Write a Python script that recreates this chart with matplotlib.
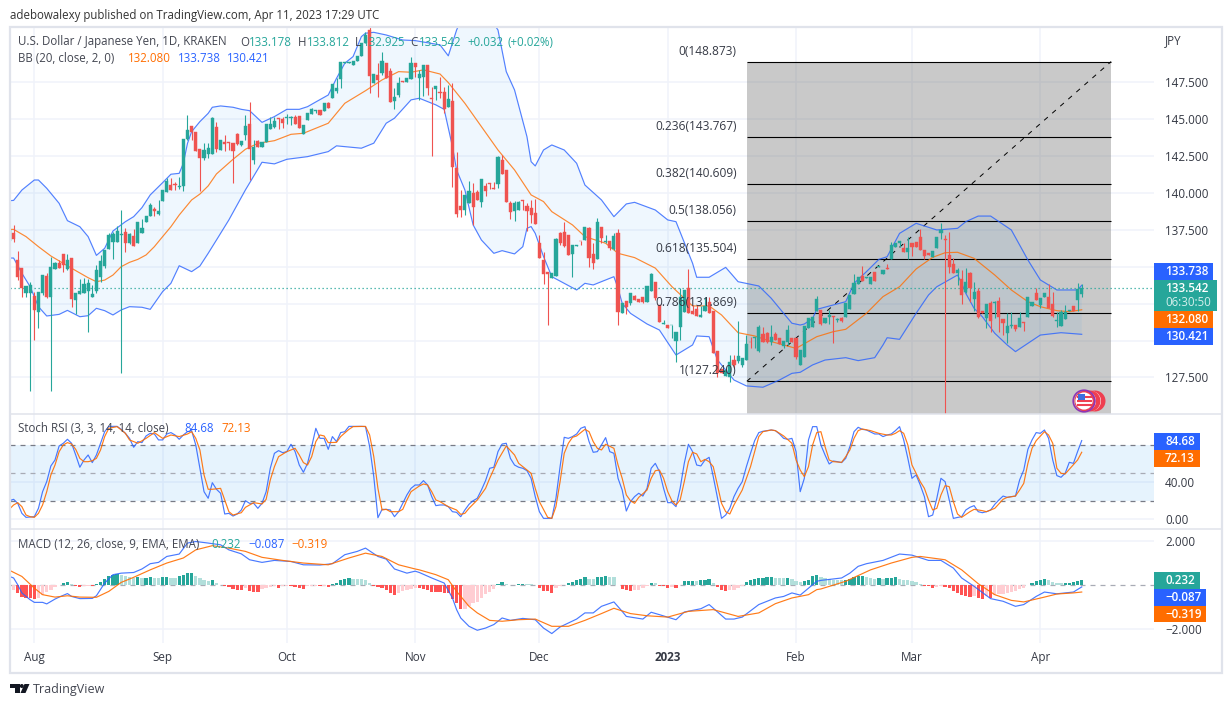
import numpy as np
import matplotlib
matplotlib.use("Agg")
import matplotlib.pyplot as plt
from matplotlib.patches import Rectangle, Circle, Polygon

plt.rcParams['font.family'] = ['Open Sans', 'DejaVu Sans']

# day 0 is 1 Aug 2022, one candle per calendar day
first_day = -6
opens = [
    136.76,137.30,135.45,134.88,133.24,133.19,133.01,131.95,133.19,134.37,
    132.97,134.86,135.22,135.85,134.84,135.58,132.74,133.15,133.24,133.37,
    132.95,133.37,134.32,135.04,136.19,136.67,136.69,137.14,137.36,136.58,
    137.07,136.62,137.30,138.04,138.42,138.90,138.56,139.44,140.07,140.52,
    140.59,140.37,140.46,143.61,144.52,144.09,142.94,142.33,142.60,142.64,
    144.45,142.91,143.41,143.41,143.34,143.95,143.23,143.93,144.65,142.22,
    143.50,143.12,143.46,144.31,144.43,145.03,144.99,145.06,145.08,145.15,
    145.17,143.98,144.92,145.33,145.53,145.60,145.55,146.05,146.39,146.86,
    147.68,148.76,148.76,148.65,148.94,149.26,150.10,151.00,147.45,147.97,
    148.08,148.76,148.26,146.21,146.62,147.59,147.52,147.70,148.78,147.79,
    147.86,148.65,146.44,147.00,146.84,146.79,145.78,146.21,141.65,139.10,
    138.83,139.28,139.96,140.07,139.40,140.48,140.64,140.30,140.59,142.22,
    141.54,139.33,138.77,138.83,139.49,139.10,138.97,138.61,136.58,135.45,
    134.66,134.26,134.37,137.25,137.34,137.14,135.83,136.40,136.76,136.80,
    137.64,135.86,135.54,137.71,136.69,136.74,136.17,137.25,131.89,132.70,
    132.52,133.02,132.81,132.93,132.59,133.38,133.98,132.41,131.10,131.05,
    131.03,129.97,130.94,131.95,133.53,132.02,132.13,131.57,132.00,132.61,
    132.02,129.29,128.05,127.63,127.56,128.69,128.62,128.35,128.69,129.93,
    130.15,129.29,130.44,130.49,129.88,130.44,130.15,129.65,129.93,130.15,
    130.15,128.35,128.91,130.83,130.94,132.02,132.07,131.16,131.61,131.68,
    131.39,131.50,131.61,132.11,133.15,133.82,134.37,134.25,133.82,134.61,
    135.00,134.48,134.93,135.49,136.35,136.62,136.24,135.97,136.60,136.64,
    136.98,136.12,135.94,135.67,136.24,137.25,136.90,135.79,135.18,134.55,
    134.14,133.31,134.55,132.79,133.35,132.02,131.50,132.52,132.54,132.65,
    131.46,130.53,130.98,131.05,130.94,131.23,131.61,132.34,133.24,132.40,
    132.92,132.97,132.47,131.30,131.00,131.48,132.02,132.34,132.74,133.178,
]
closes = [
    137.48,136.87,134.30,133.53,133.69,133.73,132.07,133.28,134.43,132.92,
    134.95,135.25,134.91,135.13,135.45,132.81,133.22,133.33,133.82,133.91,
    133.15,134.77,135.38,136.12,137.14,137.21,137.41,137.21,136.60,137.21,
    136.42,138.02,137.61,138.42,139.17,138.76,138.74,140.19,140.80,140.19,
    140.52,140.46,143.61,144.25,144.13,142.82,142.37,142.89,143.00,145.08,
    142.96,143.57,143.32,143.37,142.85,143.30,143.48,144.52,142.96,143.07,
    143.12,143.46,144.63,144.63,144.85,144.99,144.72,145.10,145.10,144.65,
    144.36,144.58,145.37,145.67,145.60,145.26,146.05,145.71,147.36,147.06,
    148.83,148.83,148.87,148.94,149.26,150.11,150.70,147.90,148.04,147.63,
    148.89,147.74,146.17,146.50,147.45,147.47,147.74,148.80,148.53,148.04,
    148.65,147.07,146.37,147.22,146.77,145.64,146.34,141.76,138.56,138.83,
    139.85,140.12,139.06,139.51,140.91,140.12,140.59,140.23,142.44,141.25,
    139.40,138.70,139.28,139.37,139.42,138.79,138.47,137.89,135.61,134.50,
    134.50,134.55,136.87,136.58,136.40,135.79,136.47,136.44,136.71,137.66,
    135.61,135.22,138.00,136.92,136.74,136.24,137.10,131.93,132.52,132.25,
    133.20,132.74,132.63,132.63,133.69,134.50,132.86,131.28,131.17,130.87,
    131.07,130.56,132.97,133.42,131.89,131.80,131.68,131.73,132.34,131.84,
    129.18,127.78,127.78,128.01,128.53,128.35,128.96,128.80,129.75,129.88,
    130.22,130.94,129.93,129.93,130.26,130.04,129.77,129.97,130.71,129.93,
    128.91,129.36,131.00,131.50,131.61,132.79,131.10,131.55,131.73,131.57,
    131.43,131.34,132.52,133.08,133.87,134.32,134.03,134.30,134.32,134.03,
    135.04,134.77,134.84,136.46,136.58,136.71,136.01,136.24,136.30,136.35,
    136.12,135.74,135.76,136.08,136.98,137.48,136.80,135.00,134.59,134.77,
    133.08,133.98,133.53,133.31,131.57,131.88,132.47,131.34,132.58,131.61,
    131.16,131.00,131.05,130.78,131.50,131.16,132.92,132.61,132.74,132.85,
    133.19,132.18,131.68,131.39,131.95,131.95,132.07,132.00,133.51,133.542,
]
highs = [
    137.48,137.82,136.06,134.88,133.69,133.96,133.26,133.28,134.43,134.59,
    135.63,135.29,135.45,135.85,135.85,135.58,133.22,134.16,134.21,134.16,
    133.76,135.11,135.76,136.12,137.25,137.36,137.75,138.83,137.61,137.30,
    137.52,138.02,138.22,138.42,139.28,139.01,139.51,140.19,140.98,140.98,
    140.75,141.09,143.61,145.26,144.52,144.09,142.94,143.34,143.34,145.15,
    144.81,143.57,143.91,143.41,143.34,144.02,143.48,145.26,146.12,143.57,
    143.57,143.46,144.63,145.15,145.10,145.03,145.15,145.33,145.19,145.26,
    145.17,144.58,145.37,145.71,145.60,145.60,146.05,146.16,147.36,147.79,
    148.83,148.83,148.87,148.94,149.26,150.11,150.90,151.30,148.04,148.76,
    149.55,148.76,148.42,147.07,147.86,147.59,147.74,149.16,148.78,148.31,
    148.65,148.65,147.18,147.22,147.85,147.18,147.29,147.40,142.73,140.19,
    139.85,140.82,140.64,140.19,140.91,140.64,140.68,140.75,142.49,142.55,
    141.54,139.46,139.44,139.44,139.49,139.28,139.51,139.58,137.14,135.97,
    134.66,134.55,136.92,137.37,138.00,137.14,136.47,136.44,136.76,137.66,
    137.71,136.58,138.27,137.71,137.14,136.74,137.25,137.55,132.52,132.70,
    133.20,133.08,132.81,132.93,133.69,134.55,133.98,132.41,131.39,131.05,
    131.07,130.56,133.53,133.42,134.82,132.41,132.41,132.36,132.97,132.97,
    132.02,129.29,128.05,128.01,129.02,129.02,131.32,128.80,130.38,130.26,
    130.22,131.05,130.94,130.60,131.05,130.60,130.15,129.97,131.05,130.15,
    130.15,129.36,131.00,131.50,131.61,133.01,132.07,131.55,132.07,131.68,
    131.50,131.61,132.52,133.08,134.50,134.32,135.06,134.30,134.32,134.61,
    135.04,134.77,135.15,136.69,136.58,136.71,136.58,137.03,136.60,136.64,
    137.55,136.12,135.94,136.08,136.98,137.97,137.14,137.32,135.56,134.88,
    134.77,134.88,134.66,133.94,133.53,132.02,132.47,132.70,132.70,132.92,
    131.46,131.88,131.95,131.05,131.95,131.23,132.97,132.61,133.53,132.85,
    133.19,133.80,133.31,131.95,132.07,132.40,132.07,132.34,133.87,133.812,
]
lows = [
    136.76,136.67,134.10,132.97,132.97,126.61,130.04,130.87,133.08,132.85,
    126.61,134.84,134.88,134.66,134.77,132.29,131.77,133.15,133.19,130.60,
    132.95,133.24,133.98,134.93,136.19,135.52,136.69,127.83,136.01,136.53,
    136.42,136.62,137.30,138.04,138.42,138.42,138.51,139.44,140.07,140.19,
    140.19,140.23,140.14,143.57,143.57,142.82,140.14,142.22,142.33,142.62,
    142.73,142.91,142.85,142.89,140.68,143.23,143.19,143.57,140.86,141.95,
    143.10,143.10,143.46,144.31,144.36,144.29,144.40,144.65,144.58,144.65,
    144.36,143.98,144.92,145.33,145.42,145.26,145.55,145.71,146.39,146.77,
    147.07,148.76,148.76,148.65,148.94,149.26,150.10,146.73,147.45,146.46,
    147.97,147.74,146.17,145.65,146.50,147.47,147.52,147.70,147.81,146.28,
    146.55,146.62,142.51,146.28,146.39,145.37,145.78,140.41,138.38,138.38,
    138.49,139.28,137.82,139.51,139.06,139.80,140.23,140.23,140.34,141.25,
    139.40,138.22,138.11,138.83,138.83,137.43,137.93,137.89,135.61,133.83,
    131.05,134.26,134.37,136.47,136.35,135.79,134.32,136.40,136.47,136.80,
    134.95,134.84,135.54,136.58,136.58,136.13,136.13,131.05,131.89,131.80,
    132.41,132.74,132.63,132.52,132.59,133.38,132.74,131.28,131.10,130.87,
    130.15,128.57,130.04,131.95,131.89,131.80,131.68,131.57,132.00,131.84,
    129.18,127.56,127.78,127.63,127.22,128.12,128.46,128.19,128.69,129.47,
    129.47,129.24,129.93,129.81,129.70,130.04,129.77,129.47,129.70,129.93,
    128.73,128.35,128.91,130.83,130.94,132.02,131.05,131.16,131.12,129.81,
    131.28,131.28,131.61,132.11,133.15,133.82,134.03,134.25,133.82,134.03,
    135.00,134.48,134.84,135.49,136.35,136.35,136.01,135.49,135.72,136.35,
    136.12,135.49,135.76,135.67,136.24,136.85,124.90,134.55,134.59,133.76,
    132.47,133.19,132.58,132.02,131.50,131.88,130.83,130.60,131.50,130.60,
    130.37,129.81,130.83,130.67,130.94,130.67,131.61,132.34,132.74,132.18,
    132.92,132.18,131.61,130.89,131.00,131.48,132.02,132.00,132.00,132.925,
]

# Bollinger bands
bb_upper_days = [-6,-5,-3,0,1,3,6,8,11,13,15,17,19,22,24,26,28,31,33,35,36,37,38,40,42,43,45,48,50,52,55,58,61,64,66,68,71,73,75,77,79,80,82,85,89,92,98,100,102,104,108,112,114,116,119,120,121,123,125,128,131,133,137,140,143,145,150,153,155,159,160,163,167,170,175,178,181,183,185,186,188,189,196,198,201,204,206,209,213,218,223,225,228,231,236,240,243,247,252,253]
bb_upper = [139.46,139.48,140.18,140.86,140.86,140.30,139.28,138.11,137.70,137.03,135.76,136.24,137.41,138.04,138.38,138.99,139.85,140.68,141.25,141.31,141.99,143.34,144.13,144.81,145.37,145.78,145.87,145.78,145.64,145.55,144.76,145.15,145.64,145.64,145.82,146.14,146.61,147.74,148.76,149.21,150.56,150.79,150.85,150.67,150.33,150.29,150.00,149.26,151.00,152.30,152.60,151.01,148.19,146.95,143.79,142.10,141.81,142.89,143.23,142.89,141.99,140.52,139.51,138.38,139.24,139.35,138.83,138.16,138.04,135.23,134.28,134.28,134.95,133.98,133.69,132.86,131.84,131.17,131.05,131.12,131.50,132.11,132.63,133.87,134.66,135.49,135.67,137.25,137.93,137.48,137.59,138.04,138.42,138.42,137.48,135.45,134.10,133.42,133.42,133.738]
bb_mid_days = [-6,-5,-2,1,4,7,10,13,15,17,19,21,23,25,27,29,31,33,35,38,40,42,44,48,51,54,58,62,65,71,75,80,84,88,91,94,98,100,104,108,112,116,120,123,125,130,133,138,141,145,150,154,157,159,163,166,170,174,178,184,189,193,196,201,205,209,213,217,220,223,227,232,236,240,243,247,250,253]
bb_mid = [137.52,137.52,137.03,136.35,135.72,135.22,134.73,134.25,133.98,134.09,134.43,135.00,135.29,135.49,135.79,136.35,137.03,137.70,138.49,139.51,139.91,140.46,141.27,142.26,142.94,143.34,143.52,143.95,144.02,144.70,146.05,146.90,147.63,148.19,148.15,148.31,148.03,147.45,146.05,144.47,142.89,141.54,139.85,139.40,138.72,137.82,137.03,136.58,135.90,135.61,134.90,133.65,132.86,132.34,132.34,131.73,130.53,130.31,129.93,129.47,130.26,130.60,130.76,131.84,132.97,133.64,134.84,135.63,135.94,135.97,135.56,134.43,133.42,132.63,132.29,132.02,131.95,132.08]
bb_lower_days = [-6,-5,-3,-1,1,3,6,8,11,13,15,17,19,21,23,26,28,31,33,35,38,40,42,44,47,51,55,58,61,66,71,73,79,82,85,87,91,93,97,99,101,102,104,106,108,111,113,116,118,119,120,121,123,125,128,131,133,135,140,141,142,144,148,151,155,159,160,163,165,169,172,176,180,183,185,188,191,196,199,203,205,206,209,213,216,218,223,224,225,227,229,232,235,237,240,243,248,253]
bb_lower = [135.58,135.58,134.55,133.64,132.29,131.66,131.77,132.04,131.61,131.68,132.18,132.02,131.73,132.07,132.29,132.25,132.11,133.31,133.87,135.06,134.66,135.04,135.90,136.80,138.16,140.19,142.06,141.95,142.26,142.44,142.78,143.17,143.01,143.35,144.70,145.04,146.28,146.39,145.94,145.64,143.12,141.54,140.19,137.82,136.80,135.90,136.08,135.86,136.35,137.59,137.71,137.25,135.68,134.32,133.87,133.42,133.87,133.76,134.32,133.53,132.52,131.84,131.12,130.71,129.02,129.70,130.31,130.26,128.69,127.33,126.93,126.84,127.33,127.78,127.85,128.35,128.68,128.84,128.64,128.84,129.70,130.19,130.08,131.84,133.08,133.64,134.43,133.87,133.19,132.18,131.61,130.49,129.70,129.25,129.81,130.37,130.53,130.421]

# Fibonacci retracement levels
fib_ratios = ['0', '0.236', '0.382', '0.5', '0.618', '0.786', '1']
fib_prices = [148.873, 143.767, 140.609, 138.056, 135.504, 131.869, 127.24]
fib_start, fib_end = 172.1, 260.1

# Stochastic RSI
stoch_k = [
    20.0,21.5,17.2,6.4,2.1,2.5,2.8,11.8,29.7,40.5,
    57.4,63.8,78.9,81.8,86.1,81.8,69.2,56.0,63.8,69.2,
    61.0,69.2,81.8,94.3,100,100,100,96.8,92.5,87.1,
    77.5,83.6,82.5,89.7,92.5,91.8,85.4,85.4,91.8,93.3,
    90.7,86.1,90.7,94.3,95.4,80.0,54.9,29.7,22.6,39.4,
    32.3,28.0,5.7,6.4,3.5,5.7,10.0,20.0,17.2,17.2,
    11.8,17.2,29.7,54.9,71.0,73.9,71.7,72.8,80.7,72.8,
    58.4,50.6,60.2,78.2,97.9,87.1,87.1,75.3,89.0,83.6,
    93.3,94.3,100,100,100,100,99.7,78.2,45.9,1.7,
    10.7,10.7,10.0,2.8,8.2,17.2,26.2,33.3,36.9,36.9,
    41.6,36.9,24.4,14.7,15.4,15.4,13.6,8.2,7.5,2.8,
    10.0,16.1,20.0,22.6,31.5,41.6,54.9,56.0,72.8,81.0,
    81.8,65.6,58.4,56.0,54.9,52.3,44.1,24.4,8.2,1.0,
    1.0,1.0,22.6,56.6,88.2,87.1,89.0,91.8,97.9,99.7,
    83.6,72.1,72.8,80.0,87.9,72.8,71.0,44.1,31.5,8.9,
    19.0,24.4,28.0,25.0,33.3,54.9,60.2,51.3,33.3,17.9,
    17.9,13.6,33.3,60.2,80.7,72.8,58.4,57.4,63.8,66.7,
    45.9,23.6,1.0,4.6,11.8,24.4,33.3,40.5,56.6,71.0,
    84.6,93.3,94.7,95.4,96.1,95.4,91.8,87.1,86.0,87.1,
    72.8,29.7,44.1,85.4,99.7,99.7,80.0,69.2,59.5,62.7,
    62.0,61.0,65.6,78.2,94.3,99.0,96.8,96.1,94.0,91.8,
    91.8,89.0,90.7,91.8,95.4,99.7,85.4,65.6,44.1,47.7,
    36.9,24.4,2.8,4.6,22.6,44.1,40.5,20.8,1.0,2.0,
    2.8,10.0,12.9,14.7,8.2,7.1,8.2,10.0,16.1,20.8,
    25.0,23.6,24.4,25.0,42.3,53.0,75.3,85.4,93.3,92.5,
    96.1,87.1,63.8,47.0,45.2,49.5,61.3,60.2,72.8,84.68,
]
stoch_d_days = [-6,-5,-4,-3,-2,-1,0,1,2,3,4,5,6,7,8,9,10,11,12,13,14,15,16,17,18,20,22,23,25,27,29,31,33,35,37,38,39,40,41,42,43,45,46,47,48,50,51,53,55,56,57,58,59,61,63,64,65,66,67,68,69,70,71,73,74,76,77,80,81,82,83,84,85,86,88,89,90,91,93,94,95,96,97,98,100,102,103,104,105,107,109,110,112,114,116,117,119,120,121,122,124,125,126,127,128,129,130,131,133,134,135,136,137,138,140,141,142,143,144,145,146,148,149,150,151,152,153,154,155,156,157,158,159,160,161,162,163,164,165,166,167,168,169,171,173,175,176,178,179,181,183,184,185,186,187,188,189,190,191,192,193,195,196,197,198,199,200,202,204,206,207,208,209,210,211,212,213,214,215,216,217,218,219,220,221,222,223,224,226,227,229,230,232,234,235,237,238,239,240,241,242,244,245,246,247,248,249,250,252,253]
stoch_d = [11.0,15.4,17.9,13.6,4.6,2.8,2.1,6.4,15.4,29.7,47.7,58.4,72.8,80.0,82.5,81.0,75.3,65.6,62.0,62.0,63.0,65.6,74.6,89.0,97.9,99.7,92.5,85.4,81.8,87.1,93.3,87.1,90.7,89.0,91.8,94.3,87.1,74.6,47.7,32.3,32.3,33.3,20.8,8.2,4.6,7.1,12.9,17.9,16.5,21.5,42.3,56.6,67.4,72.8,76.4,69.2,61.0,58.4,67.4,83.6,90.7,89.7,82.5,82.8,89.0,96.8,99.7,100,90.7,67.4,33.3,10.0,10.7,8.2,8.2,10.7,20.8,29.7,35.8,38.0,36.9,29.7,20.8,19.0,13.6,10.0,5.3,6.4,11.8,20.8,33.3,44.1,63.8,78.9,69.2,60.2,53.0,49.5,33.3,19.0,2.1,1.0,13.6,40.5,71.0,81.8,88.2,89.7,96.8,94.3,83.6,76.4,74.6,80.7,76.4,58.4,44.1,26.2,20.0,17.2,23.6,31.5,44.1,52.3,53.0,44.1,29.7,20.0,15.4,20.8,40.5,62.0,72.1,70.3,62.0,64.5,62.0,56.6,36.9,17.2,8.2,5.7,15.4,31.5,56.6,89.0,94.3,96.1,95.4,89.7,81.8,63.8,53.0,45.9,56.6,80.0,93.3,94.3,78.2,63.8,62.0,61.3,67.4,74.6,87.1,95.4,97.2,95.4,92.5,90.7,90.7,92.5,95.4,92.5,80.0,58.4,49.5,40.5,33.3,20.8,10.0,11.8,26.2,36.2,35.1,19.0,5.7,2.1,8.2,10.7,9.3,8.2,11.8,21.5,23.6,25.0,31.5,38.7,60.2,76.4,84.6,94.3,90.7,81.8,54.9,49.5,48.8,53.8,63.8,72.13]

# MACD
macd_days = [-6,-5,-4,-3,-2,-1,0,2,3,5,6,8,9,11,14,15,17,19,21,24,26,28,30,32,35,37,39,42,45,47,50,52,55,58,62,65,69,72,75,78,80,83,85,87,90,92,93,96,99,101,102,103,105,107,109,111,113,115,118,121,123,125,127,131,133,135,137,140,142,143,147,149,151,155,157,161,163,167,169,171,175,179,181,183,185,189,190,195,197,199,201,205,209,212,216,219,222,224,227,231,234,237,239,242,244,247,251,253]
macd_line = [.39,.32,.01,-.36,-.52,-.67,-.79,-.79,-.86,-.64,-.55,-.39,-.52,-.62,-.61,-.49,.09,.47,.54,.57,.73,.97,1.03,1.30,1.41,1.91,1.98,1.91,1.83,1.60,1.42,1.15,1.03,1.12,1.07,.92,.91,.97,1.38,1.53,1.68,1.30,1.18,.73,.54,.63,.57,.32,.09,-.59,-1.12,-1.50,-1.88,-2.06,-1.96,-1.80,-1.50,-1.61,-1.52,-1.58,-1.96,-2.21,-1.91,-1.55,-1.27,-1.27,-.97,-.77,-1.20,-1.43,-1.55,-1.24,-1.35,-1.58,-1.23,-1.08,-.89,-1.55,-1.55,-1.46,-.89,-.59,-.52,-.36,-.46,.17,.21,.32,.54,.85,.97,1.12,1.41,1.36,1.12,1.12,.77,.32,-.06,-.62,-.74,-.97,-.89,-.52,-.32,-.40,-.32,-.087]
signal_days = [-6,-3,0,2,5,8,11,15,18,21,24,28,32,36,39,43,47,51,55,60,65,71,76,80,84,88,92,93,97,100,102,105,107,110,113,117,121,125,129,133,137,140,144,148,153,158,164,170,175,179,183,187,189,190,196,202,207,212,214,220,224,228,232,236,239,244,247,251,253]
signal_line = [.67,.39,-.14,-.44,-.55,-.49,-.55,-.56,-.29,.12,.35,.69,1.00,1.23,1.60,1.79,1.68,1.53,1.26,1.12,1.00,.92,1.23,1.45,1.30,.92,.73,.69,.47,.24,-.29,-.97,-1.27,-1.61,-1.65,-1.58,-1.55,-1.88,-1.88,-1.61,-1.30,-1.06,-1.30,-1.40,-1.46,-1.20,-1.12,-1.43,-1.27,-.85,-.59,-.44,-.21,-.18,.17,.69,1.00,1.26,1.30,1.15,.69,.06,-.44,-.70,-.77,-.55,-.41,-.36,-.319]
macd_hist = [
    -.27,-.24,-.38,-.53,-.576,-.606,-.636,-.606,-.455,-.30,
    -.227,-.106,-.015,.076,.136,.03,-.03,-.09,-.045,-.03,
    -.06,.045,.12,.27,.424,.47,.50,.455,.424,.38,
    .333,.364,.30,.333,.38,.333,.30,.38,.385,.333,
    .318,.41,.47,.53,.56,.424,.30,.227,.167,.21,
    .106,.015,-.06,-.09,-.18,-.21,-.212,-.15,-.27,-.30,
    -.303,-.18,-.136,-.076,-.06,-.12,-.06,-.03,-.06,-.106,
    -.15,-.167,-.06,-.045,-.044,-.06,-.03,-.076,.06,.09,
    .21,.27,.30,.29,.288,.285,.24,.076,-.03,-.106,
    -.15,-.227,-.38,-.44,-.38,-.27,-.24,-.167,-.12,-.15,
    -.18,-.21,-.30,-.31,-.333,-.364,-.38,-.636,-.833,-1.106,
    -1.09,-.94,-.833,-.788,-.606,-.424,-.30,-.18,.045,.136,
    .045,.015,-.015,.03,.06,.045,.03,.015,-.15,-.27,
    -.288,-.38,-.15,-.06,.015,.076,.136,.227,.27,.364,
    .27,.258,.38,.385,.39,.348,.345,.015,-.18,-.24,
    -.258,-.24,-.21,-.15,-.06,.106,.09,-.03,-.045,-.12,
    -.106,-.12,-.015,.167,.197,.20,.197,.21,.227,.258,
    .09,-.076,-.227,-.27,-.24,-.21,-.12,-.06,.12,.21,
    .288,.30,.333,.348,.35,.318,.30,.298,.333,.27,
    .197,.15,.18,.24,.41,.44,.38,.30,.27,.24,
    .238,.21,.212,.27,.364,.394,.41,.38,.333,.27,
    .30,.288,.30,.333,.364,.27,.24,.21,.167,.12,
    .06,-.03,-.06,-.12,-.076,-.06,-.09,-.15,-.27,-.364,
    -.455,-.485,-.53,-.50,-.606,-.636,-.50,-.576,-.455,-.41,
    -.394,-.38,-.333,-.27,-.18,-.12,-.015,.076,.167,.21,
    .27,.21,.15,.106,.09,.106,.114,.12,.18,.232,
]

month_days = [0, 31, 61, 92, 122, 153, 184, 212, 243]
month_labels = ['Aug', 'Sep', 'Oct', 'Nov', 'Dec', '2023', 'Feb', 'Mar', 'Apr']
price_ticks = [127.5, 130, 132.5, 135, 137.5, 140, 142.5, 145, 147.5]
price_tick_labels = ['127.500', '', '', '135.000', '137.500', '140.000', '142.500', '145.000', '147.500']
last_close = closes[-1]

UP, DOWN = '#26a69a', '#ef5350'
BLUE, ORANGE = '#2962ff', '#ff6d00'
GRID = '#f0f3fa'
BORDER = '#e0e3eb'
TEXT = '#131722'
W, H = 1232, 707


def pane(top, bottom):
    # axes placed by pixel rows of the figure
    ax = fig.add_axes([10 / W, 1 - bottom / H, 1144 / W, (bottom - top) / H])
    ax.set_xlim(-5.87, 270.46)
    for s in ax.spines.values():
        s.set_visible(False)
    ax.set_xticks(month_days)
    ax.grid(True, color=GRID, lw=1.1)
    ax.set_axisbelow(True)
    ax.tick_params(length=0, labelbottom=False, labelleft=False, labelright=True,
                   labelsize=8.4, labelcolor='#363a45', pad=7.9)
    ax.yaxis.tick_right()
    return ax


fig = plt.figure(figsize=(W / 100, H / 100), dpi=100, facecolor='white')
days = np.arange(first_day, first_day + len(closes))

# price pane
ax = pane(27, 414)
ax.set_ylim(125.03, 151.21)
ax.set_yticks(price_ticks, price_tick_labels)

ax.add_patch(Rectangle((fib_start, 120), fib_end - fib_start, fib_prices[0] - 120,
                       fc='#787878', alpha=0.4, ec='none', zorder=1))
for p in fib_prices:
    ax.plot([fib_start, fib_end], [p, p], color='black', lw=0.8, zorder=2, solid_capstyle='butt')
ax.plot([fib_start, fib_end], [fib_prices[-1], fib_prices[0]], color='black', lw=0.7,
        ls=(0, (5, 6)), zorder=2)

ax.fill(np.r_[bb_upper_days, bb_lower_days[::-1]], np.r_[bb_upper, bb_lower[::-1]],
        color='#2196f3', alpha=0.07, lw=0, zorder=1.5)
ax.plot(bb_upper_days, bb_upper, color=BLUE, lw=0.85, alpha=0.8, zorder=3)
ax.plot(bb_lower_days, bb_lower, color=BLUE, lw=0.85, alpha=0.8, zorder=3)
ax.plot(bb_mid_days, bb_mid, color=ORANGE, lw=0.85, alpha=0.8, zorder=3)

o, c = np.array(opens), np.array(closes)
colors = np.where(c >= o, UP, DOWN)
ax.vlines(days, lows, highs, colors=colors, lw=0.8, zorder=4)
ax.bar(days, c - o, bottom=o, width=0.76, color=colors, edgecolor=colors, lw=0.3, zorder=4)
ax.axhline(last_close, color=UP, lw=0.9, ls=(0, (1, 2.2)), zorder=3.5)

for r, p in zip(fib_ratios, fib_prices):
    ax.annotate(f'{r}({p:.3f})', (169.7, p), xytext=(0, 4), textcoords='offset pixels',
                ha='right', va='bottom', fontsize=8.6, color='#363a45', zorder=5)

# stochastic RSI pane
ax2 = pane(414, 529)
ax2.set_ylim(-10.44, 113.3)
ax2.set_yticks([0, 40], ['0.00', '40.00'])
ax2.axhspan(20, 80, color='#2196f3', alpha=0.11, lw=0, zorder=1)
ax2.axhline(80, color='#787b86', lw=0.9, ls=(0, (4, 4)), zorder=2)
ax2.axhline(50, color='#a8abb5', lw=0.9, ls=(0, (4, 4)), zorder=2)
ax2.axhline(20, color='#787b86', lw=0.9, ls=(0, (4, 4)), zorder=2)
ax2.plot(days, stoch_k, color=BLUE, lw=0.85, alpha=0.85, zorder=3)
ax2.plot(stoch_d_days, stoch_d, color=ORANGE, lw=0.85, alpha=0.9, zorder=3)

# MACD pane
ax3 = pane(529, 643)
ax3.set_ylim(-2.64, 2.55)
ax3.set_yticks([-2, 2], ['\u22122.000', '2.000'])
ax3.axhline(0, color='#a8abb5', lw=0.9, ls=(0, (4, 4)), zorder=2)
hist = np.array(macd_hist)
prev = np.r_[hist[0], hist[:-1]]
bar_colors = ['#26a69a' if h >= 0 and h >= q else '#b2dfdb' if h >= 0
              else '#ffcdd2' if h >= q else '#ff5252' for h, q in zip(hist, prev)]
ax3.bar(days, hist, width=0.8, color=bar_colors, lw=0, zorder=3)
ax3.plot(macd_days, macd_line, color=BLUE, lw=0.85, alpha=0.85, zorder=4)
ax3.plot(signal_days, signal_line, color=ORANGE, lw=0.85, alpha=0.9, zorder=4)
ax3.tick_params(axis='x', labelbottom=True, pad=6)
ax3.set_xticks(month_days, month_labels)
for lab in ax3.get_xticklabels():
    lab.set_fontsize(8.4)
    if lab.get_text() == '2023':
        lab.set_fontweight('bold')

# chrome drawn in pixel rows over the panes
ui = fig.add_axes([0, 0, 1, 1], zorder=10, facecolor='none')
ui.set_xlim(0, W)
ui.set_ylim(H, 0)
ui.axis('off')

ui.add_patch(Rectangle((9.5, 26.5), 1212.5, 646, fc='none', ec=BORDER, lw=1.6))
ui.plot([10, 1222], [414, 414], color=BORDER, lw=1.1)
ui.plot([10, 1222], [529, 529], color=BORDER, lw=1.1)


def label(x, y, s, color=TEXT, size=8.3, **kw):
    ui.text(x, y, s, color=color, fontsize=size, va='center', **kw)


def tag(x1, y0, y1, color, s, xt=1165):
    ui.add_patch(Rectangle((1154, y0), x1 - 1154, y1 - y0, fc=color, ec='none', zorder=6))
    label(xt, (y0 + y1) / 2, s, color='white', zorder=7, fontweight='semibold', size=8.4)


label(10, 15, 'adebowalexy published on TradingView.com, Apr 11, 2023 17:29 UTC', color='#333333')
label(1165, 41, 'JPY', color='#363a45')

label(18, 42, 'U.S. Dollar / Japanese Yen, 1D, KRAKEN', color='#434651')
for x, s, col in [(240, 'O', '#434651'), (249, '133.178', UP), (298, 'H', '#434651'), (307, '133.812', UP),
                  (355, 'L', '#434651'), (363, '132.925', UP), (410, 'C', '#434651'), (419, '133.542', UP),
                  (467, '+0.032', UP), (507, '(+0.02%)', UP)]:
    label(x, 42, s, color=col)
label(18, 58, 'BB (20, close, 2, 0)', color='#434651')
label(128, 58, '132.080', color=ORANGE)
label(178, 58, '133.738', color=BLUE)
label(227, 58, '130.421', color=BLUE)
label(18, 429, 'Stoch RSI (3, 3, 14, 14, close)', color='#434651')
label(184, 429, '84.68', color=BLUE)
label(221, 429, '72.13', color=ORANGE)
label(18, 545, 'MACD (12, 26, close, 9, EMA, EMA)', color='#434651')
label(211, 545, '0.232', color=UP)
label(248, 545, '\u22120.087', color=BLUE)
label(291, 545, '\u22120.319', color=ORANGE)

tag(1213, 263, 280, BLUE, '133.738')
ui.add_patch(Rectangle((1154, 280), 63, 31, fc=UP, ec='none', zorder=6))
label(1165, 288.5, '133.542', color='white', zorder=7, fontweight='semibold', size=8.4)
label(1165, 303, '06:30:50', color='#d4efec', zorder=7)
tag(1213, 311, 328, ORANGE, '132.080')
tag(1213, 328, 345, BLUE, '130.421')
tag(1200, 433, 450, BLUE, '84.68')
tag(1200, 450, 467, ORANGE, '72.13')
tag(1200, 572, 589, UP, '0.232')
tag(1206, 589, 606, BLUE, '\u22120.087')
tag(1206, 606, 622, ORANGE, '\u22120.319')

# flag badge in the lower right corner of the price pane
for cx, col in [(1095, '#ef3f50'), (1091, 'white'), (1090, '#ef3f50'), (1086, 'white'), (1085, '#ef3f50')]:
    ui.add_patch(Circle((cx, 401), 10.5 if col != 'white' else 10, fc=col, ec='none', zorder=5))
ui.add_patch(Circle((1084, 401), 10.8, fc='none', ec='#8e35b5', lw=1.2, zorder=5))
ui.add_patch(Circle((1084, 401), 8.6, fc='white', ec='none', zorder=5))
for yy in (397, 401, 405):
    ui.plot([1077, 1092], [yy, yy], color='#ef3f50', lw=1.5, zorder=6, solid_capstyle='butt')
ui.add_patch(Rectangle((1078, 394), 7, 6, fc='#3d6fe0', ec='none', zorder=7))

# TradingView mark
ui.add_patch(Polygon([(10, 684), (19.5, 684), (19.5, 693), (14.5, 693), (14.5, 688), (10, 688)], fc=TEXT, ec='none'))
ui.add_patch(Circle((21.8, 686), 2, fc=TEXT, ec='none'))
ui.add_patch(Polygon([(24.5, 684), (29.5, 684), (25.5, 693), (20.5, 693)], fc=TEXT, ec='none'))
label(33, 689, 'TradingView', color='#434651', size=9.0)

fig.savefig('out.png', dpi=100)
